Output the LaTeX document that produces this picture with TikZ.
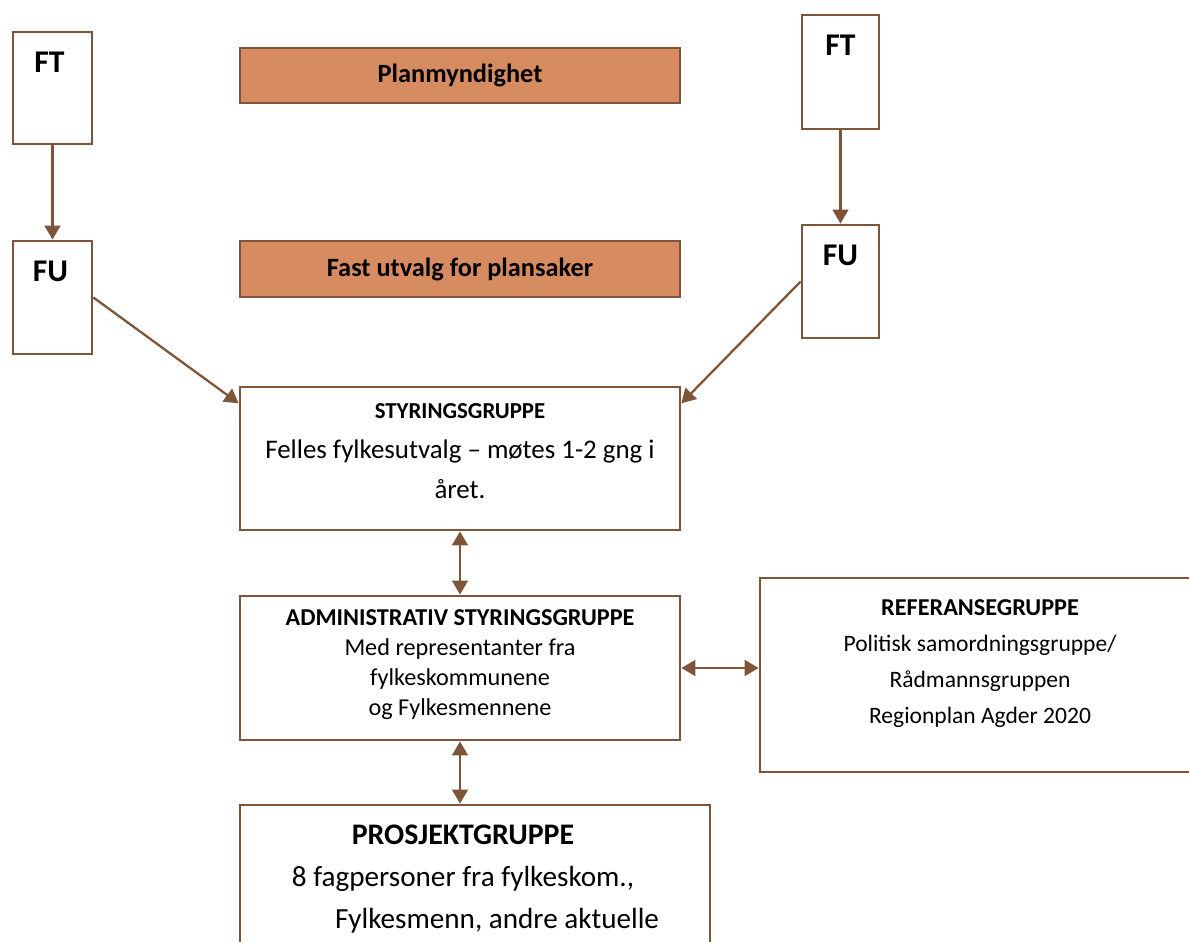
\documentclass[tikz,border=0pt]{standalone}
\usepackage{fontspec}
\setmainfont{Carlito}
\usetikzlibrary{positioning, arrows.meta}
\definecolor{boxbrown}{RGB}{127,85,58}
\definecolor{planfill}{RGB}{214,139,96}
\tikzstyle{org}=[draw=boxbrown, line width=1.6pt, fill=white, shape=rectangle, inner sep=0pt]
\tikzstyle{plan}=[org, fill=planfill, font=\bfseries\fontsize{15}{17}\selectfont]
\tikzstyle{link}=[draw=boxbrown, line width=1.3pt]
\tikzstyle{toptext}=[anchor=north, align=center, inner sep=0pt]
\tikzstyle{tag}=[toptext, yshift=-0.42cm, font=\bfseries\fontsize{18}{20}\selectfont]
\tikzset{>={Triangle[width=9pt,length=8pt]}}

\begin{document}
\begin{tikzpicture}[x=0.02cm, y=-0.02cm]
\useasboundingbox (0,0) rectangle (1189,942);
\clip (0,0) rectangle (1189,942);
%
\node[org, minimum width=1.58cm, minimum height=2.24cm, label={[tag, xshift=-0.06cm]north:FT}] (ftL) at (52.5, 88) {};
\node[org, minimum width=1.58cm, minimum height=2.26cm, label={[tag, xshift=-0.04cm]north:FU}] (fuL) at (52.5, 297.5) {};
\node[org, minimum width=1.54cm, minimum height=2.28cm, label={[tag]north:FT}] (ftR) at (840.5, 72) {};
\node[org, minimum width=1.54cm, minimum height=2.26cm, label={[tag]north:FU}] (fuR) at (840.5, 281.5) {};
%
\node[plan, minimum width=8.8cm, minimum height=1.1cm] (planmynd) at (460, 75.5) {Planmyndighet};
\node[plan, minimum width=8.8cm, minimum height=1.12cm] (fastutv) at (460, 269) {Fast utvalg for plansaker};
%
\node[org, minimum width=8.8cm, minimum height=2.86cm, label={[toptext, yshift=-0.36cm, font=\fontsize{15.3}{22.5}\selectfont]north:{\textbf{\fontsize{13}{15}\selectfont STYRINGSGRUPPE}\\Felles fylkesutvalg -- møtes 1-2 gng i\\året.}}] (styr) at (460, 458.5) {};
\node[org, minimum width=8.8cm, minimum height=2.88cm, label={[toptext, yshift=-0.3cm, font=\fontsize{13.8}{17}\selectfont]north:{\textbf{ADMINISTRATIV STYRINGSGRUPPE}\\Med representanter fra\\fylkeskommunene\\og Fylkesmennene}}] (admin) at (460, 668) {};
\node[org, minimum width=9.2cm, minimum height=3.88cm, label={[toptext, xshift=-0.2cm, yshift=-0.46cm, font=\fontsize{13.4}{20.5}\selectfont]north:{\textbf{\fontsize{13.8}{16}\selectfont REFERANSEGRUPPE}\\Politisk samordningsgruppe/\\Rådmannsgruppen\\Regionplan Agder 2020}}] (referanse) at (990, 675) {};
\node[org, minimum width=9.4cm, minimum height=3.9cm, label={[toptext, xshift=-0.24cm, yshift=-0.42cm, font=\fontsize{16.6}{24}\selectfont]north:{\textbf{\fontsize{17}{19}\selectfont PROSJEKTGRUPPE}\\8 fagpersoner fra fylkeskom.,\\\hspace*{1.36cm}Fylkesmenn, andre aktuelle}}] (prosjekt) at (475, 902.5) {};
%
\draw[link, ->] (ftL) -- (fuL);
\draw[link, ->] (ftR) -- (fuR);
\draw[link, ->] (fuL.east) -- (styr.166);
\draw[link, ->] (fuR.west) -- (styr.14);
\draw[link, <->] (styr.south) -- (admin.north);
\draw[link, <->] (admin.east) -- (admin.east -| referanse.west);
\draw[link, <->] (admin.south) -- (admin.south |- prosjekt.north);
\end{tikzpicture}
\end{document}
